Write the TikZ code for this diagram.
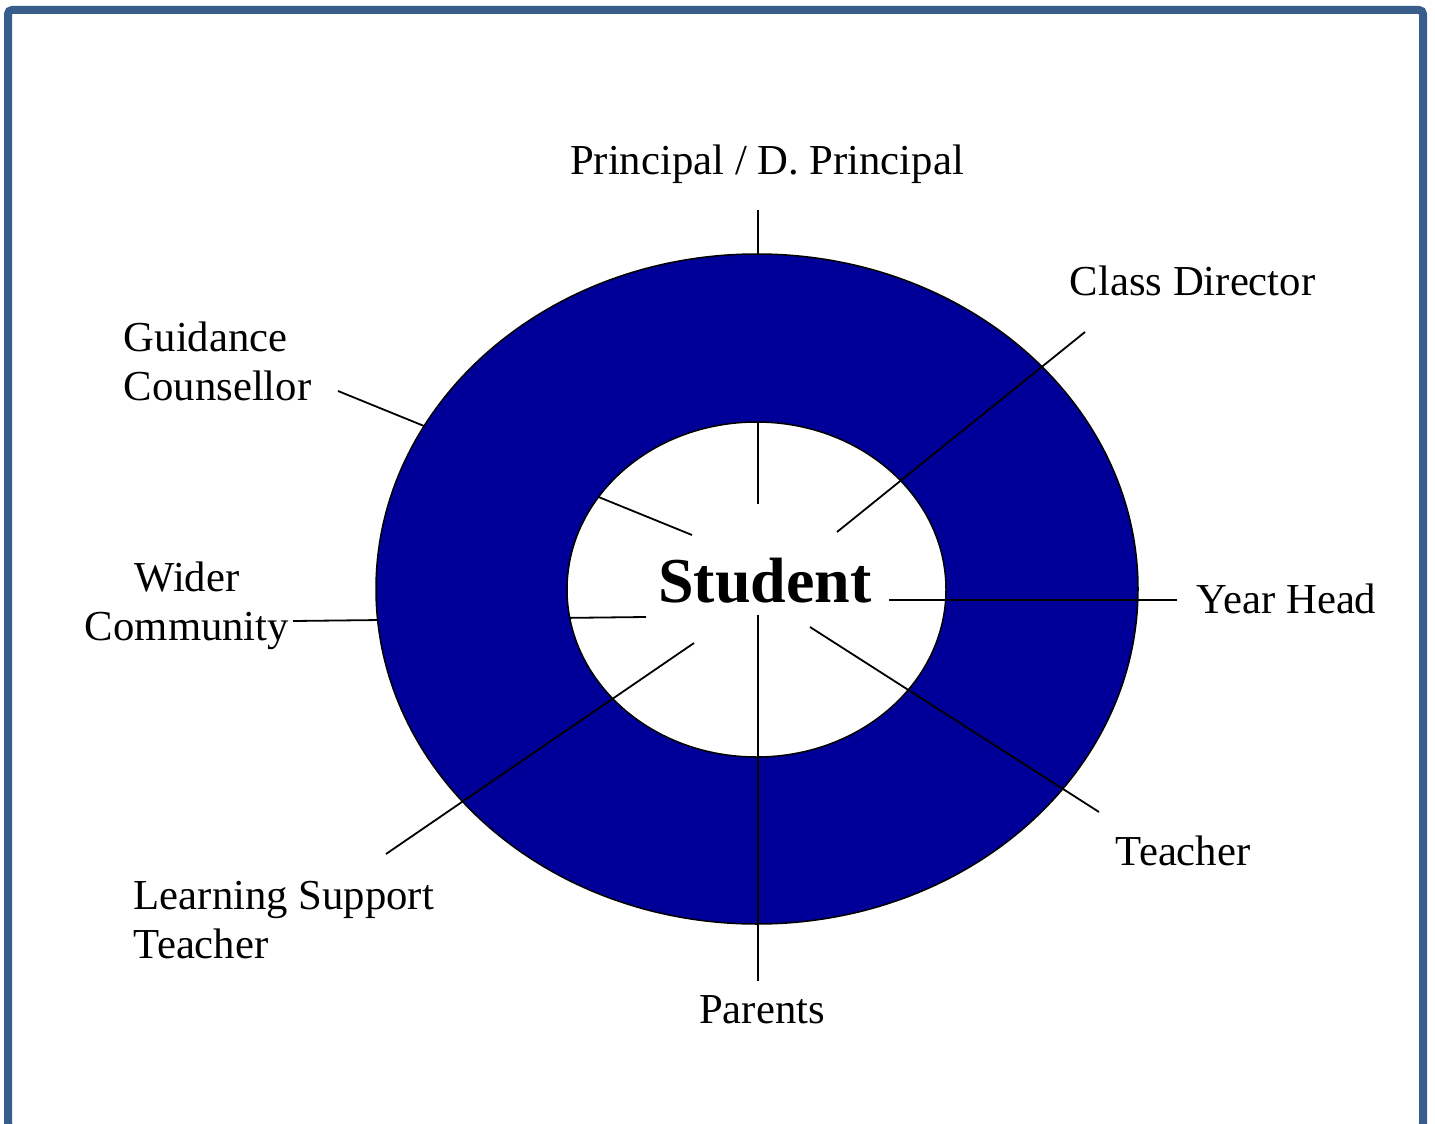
\documentclass[tikz,border=0pt]{standalone}
\usepackage{fontspec}
\setmainfont{Liberation Serif}
\definecolor{frameblue}{RGB}{56,93,138}
\definecolor{ringblue}{RGB}{0,0,153}

\begin{document}
\begin{tikzpicture}[x=1pt,y=-1pt,line width=1.8pt,
  label node/.style={inner sep=0pt,font=\fontsize{42.7}{49}\selectfont},
  centre node/.style={inner sep=0pt,font=\bfseries\fontsize{64}{70}\selectfont}]
    \useasboundingbox (0,0) rectangle (1435,1124);
    \draw[frameblue,line width=8pt,rounded corners=4pt] (8,10) rectangle (1423,1128);

    \node[centre node,anchor=base] (0) at (765,602) {Student};
    \node[label node,anchor=base] (1) at (767,174) {Principal / D. Principal};
    \node[label node,anchor=base west] (2) at (1069,295) {Class Director};
    \node[label node,anchor=base west,align=left] (3) at (123,400) {Guidance\\Counsellor};
    \node[label node,anchor=base,align=center] (4) at (187,640) {Wider\\Community};
    \node[label node,anchor=base west] (5) at (1196,613) {Year Head};
    \node[label node,anchor=base west] (6) at (1115,865) {Teacher};
    \node[label node,anchor=base] (7) at (762,1023) {Parents};
    \node[label node,anchor=base west,align=left] (8) at (133,958) {Learning Support\\Teacher};

    % spoke ends, inner (a) and outer (b)
    \coordinate (1a) at (758,504);  \coordinate (1b) at (758,210);
    \coordinate (2a) at (837,532);  \coordinate (2b) at (1085,332);
    \coordinate (3a) at (692,535);  \coordinate (3b) at (338,391);
    \coordinate (4a) at (646,617);  \coordinate (4b) at (293,621);
    \coordinate (5a) at (889,600);  \coordinate (5b) at (1177,600);
    \coordinate (6a) at (810,627);  \coordinate (6b) at (1099,812);
    \coordinate (7a) at (758,615);  \coordinate (7b) at (758,981);
    \coordinate (8a) at (694,643);  \coordinate (8b) at (386,854);

    % these three go under the ring
    \path (1a) edge (1b)
          (3a) edge (3b)
          (4a) edge (4b);

    \path[fill=ringblue,draw=black,even odd rule,line width=1.5pt]
        (757,589) ellipse [x radius=381,y radius=335]
        (756.5,589.5) ellipse [x radius=189.5,y radius=167.5];

    \path (2a) edge (2b)
          (5a) edge (5b)
          (6a) edge (6b)
          (7a) edge (7b)
          (8a) edge (8b);
\end{tikzpicture}
\end{document}
